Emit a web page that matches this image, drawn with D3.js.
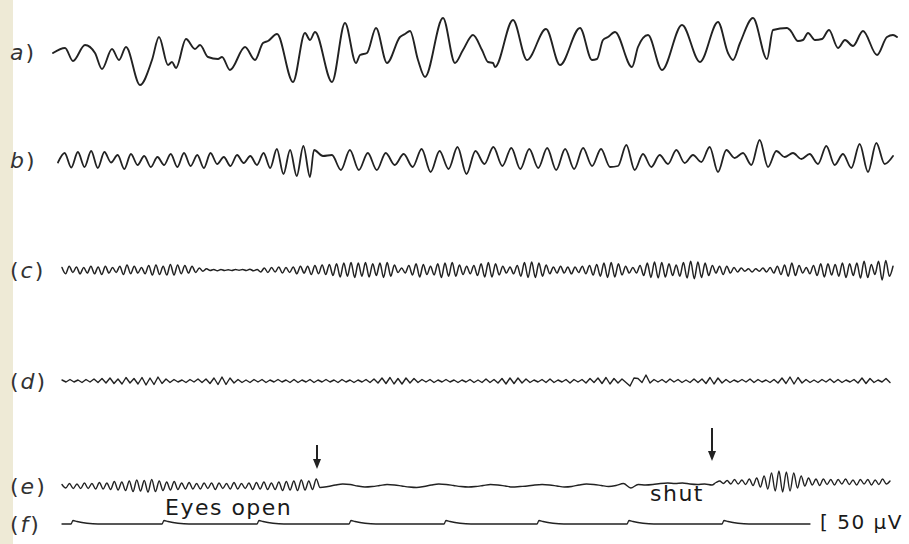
<!DOCTYPE html>
<html>
<head>
<meta charset="utf-8">
<script src="https://cdn.jsdelivr.net/npm/d3@7"></script>
<style>
  html, body { margin: 0; padding: 0; background: #fff; }
  svg { display: block; }
  .trace { fill: none; stroke: #222; stroke-linejoin: round; stroke-linecap: round; }
  .lbl { font-family: 'DejaVu Sans', sans-serif; fill: #333; }
</style>
</head>
<body>
<div id="chart"></div>
<script>
// trace a: times of the turning points (s) and amplitude (µV)
const aTimes = [
  0.03, 0.15, 0.23, 0.35, 0.45, 0.52, 0.62, 0.69, 0.76, 0.9,
  1.02, 1.09, 1.18, 1.22, 1.26, 1.36, 1.45, 1.5, 1.58, 1.68,
  1.72, 1.8, 1.95, 2.05, 2.13, 2.18, 2.27, 2.43, 2.55, 2.6,
  2.65, 2.82, 2.95, 3.06, 3.1, 3.17, 3.26, 3.37, 3.5, 3.55,
  3.6, 3.68, 3.75, 3.93, 4.05, 4.13, 4.23, 4.32, 4.38, 4.43,
  4.45, 4.63, 4.77, 4.96, 5.1, 5.3, 5.42, 5.47, 5.53, 5.58,
  5.65, 5.82, 5.88, 5.98, 6.12, 6.32, 6.5, 6.68, 6.78, 6.83,
  6.9, 7.03, 7.17, 7.23, 7.37, 7.4, 7.48, 7.53, 7.58, 7.65,
  7.72, 7.79, 7.88, 7.95, 8.03, 8.13, 8.27, 8.37, 8.43, 8.47,
]
const aValues = [
  -4, 16, -36, 28, -4, -68, 12, -32, 20, -132,
  -32, 60, -52, -40, -64, 52, 12, 28, -20, -28,
  -20, -72, 20, -32, 36, 44, 72, -120, 76, 48,
  80, -120, 116, -44, -12, -4, 96, -44, 60, 72,
  84, -32, -100, 136, -44, 8, 68, 8, -40, -44,
  -60, 128, -32, 92, -52, 96, -32, -28, 48, 60,
  80, -60, 20, 68, -72, 108, -40, 120, -4, -32,
  36, 136, -28, 88, 96, 88, 44, 48, 76, 48,
  52, 88, 16, 48, 24, 84, -12, 60, 68, 60,
]

// b - e: turning points read at an even step inside each stretch (µV)
const bFirst = [
  -10, 28, -30, 32, -28, 36, -32, 32, -10, 20, -36, 24, -20, 16, -28, 12, -20, 24, -28, 28,
  -24, 20, -32, 28, -16, 12, -24, 20, -12, 16, -20, 28, -32, 44, -56, 40, -64, 56, -68,
]
const bMiddle = [
  40, 16, 20, -40, 40, -40, 28, -40, 28, -20, 24, -28, 44, -48, 36, -36, 52,
  -56, 36, -16, 52, -24, 48, -36, 44, -32, 48, -40, 44, -36, 48, -24, 44, -28,
]
const bLast = [
  -24, 60, -40, 24, -28, 20, -16, 40, -12, 20, -8, 52, -48, 40, 8, 28, -20,
  80, -28, 36, 12, 28, 4, 24, -16, 56, -20, 24, -32, 64, -48, 68, -16, 16,
]
const cValues = [
  10, -15, 15, -10, 12, -15, 10, -12, 15, -15, 12, -18, 15, -12, 10, -10, 15, -18, 20, -15,
  15, -12, 10, -15, 18, -20, 20, -18, 15, -20, 22, -20, 20, -15, 18, -12, 15, -10, 8, -5, 5,
  -2, 2, -3, 2, -2, 1, -2, 2, -1, 2, -2, 3, -3, 2,
  -8, 8, -10, 10, -8, 12, -12, 10, -10, 12, -15, 15, -12, 15, -18, 18, -15, 20, -18, 22,
  -22, 25, -28, 28, -25, 30, -30, 28, -25, 30, -28, 25, -22, 28, -30, 30, -25, 20,
  -10, 8, -12, 18, -20, 25, -28, 22, -18, 15, -20, 25, -30, 28, -25, 30, -25, 20,
  -18, 15, -15, 18, -22, 25, -28, 30, -28, 25, -20, 15, -12, 12, -15, 18, -25, 30, -30, 32,
  -30, 28, -25, 20, -15, 12, -12, 15, -12, 12, -15, 12, -10, 15, -15, 18, -20, 22, -25, 28,
  -30, 30, -28, 25, -20, 15, -12, 10, -12, 18, -22, 28, -30, 32, -32, 30, -28, 25, -22, 20,
  -25, 30, -32, 35, -35, 32, -30, 28, -22, 18, -12, 15, -18, 15, -12, 10, -8, 8, -5, 5,
  -8, 5, -5, 8, -8, 10, -12, 15, -18, 20, -25, 28, -22, 18, -12, 10, -15, 18, -22, 25,
  -28, 25, -20, 22, -25, 28, -30, 25, -22, 28, -32, 35, -30, 22, -18, 35, -40, 38, -25, 15,
]
const dValues = [
  4, -4, 6, -4, 4, -6, 6, -4, 8, -6, 10, -8, 12, -10, 8, -12, 14, -8, 10, -12,
  14, -16, 12, -14, 16, -10, 8, -6, 6, -4, 4, -6, 6, -4, 8, -6, 8, -10, 12, -14,
  16, -14, 12, -8, 6, -6, 4, -6, 6, -4, 6, -6, 4, -4, 6, -4, 4, -6, 6, -6,
  4, -4, 6, -6, 4, -4, 6, -4, 4, -6, 6, -4, 4, -6, 4, -4, 6, -6, 8, -8,
  12, -10, 14, -12, 10, -12, 12, -8, 10, -6, 6, -4, 6, -6, 4, -4, 6, -4, 4, -6,
  4, -4, 6, -6, 4, -6, 8, -6, 6, -8, 10, -12, 12, -10, 12, -8, 8, -6, 4, -4,
  6, -6, 8, -6, 4, -4, 6, -8, 6, -4, 6, -8, 10, -6, 12, -10, 14, -12, 10, -8,
  8, -6, -20, 12, 10, -6, 24, -8, 6, -4, 6, -6, 8, -4, 6, -6, 4, -6, 8, -6,
  8, -10, 14, -12, 12, -8, 6, -6, 4, -4, 6, -4, 8, -6, 6, -4, 4, -6, 6, -8,
  12, -10, 16, -12, 14, -8, 6, -6, 4, -6, 6, -4, 8, -6, 6, -6, 4, -4, 6, -8,
  12, -10, 10, -6, 4, -4, 10, -6,
]
const eOpen = [
  6, -8, 10, -10, 8, -10, 12, -10, 10, -12, 14, -12, 12, -14, 18, -16, 16, -18, 20, -22,
  24, -20, 22, -24, 26, -22, 20, -18, 16, -16, 18, -14, 12, -12, 14, -12, 10, -12, 12, -10,
  12, -14, 12, -10, 10, -12, 14, -12, 10, -10, 12, -14, 14, -12, 16, -14, 12, -14, 16, -18,
  18, -16, 20, -18, 24, -16, 20, -14, 28, -6,
]
const eSlow = [
  -2, 4, 8, 6, 0, -4, -2, 2, 6, 4, 0, -4, -6, -2, 4, 8, 6, 2, -2, -4,
  -2, 2, 6, 4, 0, -4, -2, 0, 4, 6, 4, 0, -4, -2, 4, 8, 6, 2, -2, 2,
  10, -8, 6, 4, 6, 10, 12, 10, 12, 8, 6, 8, 4,
]
const eShut = [
  14, 20, 10, 22, 8, 26, 8, 24, 6, 28, 2, 32, -4, 40, -12, 52, -20, 60, -24, 56,
  -20, 52, -8, 40, 0, 32, 4, 28, 2, 28, 6, 26, 4, 26, 8, 28, 6, 24, 4, 26,
  8, 26, 4, 24, 6, 28, 8, 20,
]

// f: one-second time marks, and the two arrows on e (s)
const markTimes = [0.22, 1.13, 2.08, 3.0, 3.95, 4.88, 5.78, 6.73]
const arrowTimes = [2.67, 6.62]
const rowLabels = ['a', 'b', 'c', 'd', 'e', 'f']

const W = 909
const H = 544
const rowY = { a: 52, b: 160, c: 270, d: 381, e: 486, f: 524 }
const strokeW = { a: 1.9, b: 1.8, c: 1.5, d: 1.4, e: 1.4, f: 1.3 }

const x = d3.scaleLinear().domain([0, 8.5]).range([50, 900])
// 4 µV per pixel
const amp = d3.scaleLinear().domain([-100, 100]).range([25, -25])

function evenPoints(segs) {
  return segs.flatMap((s) => {
    const step = (s.t1 - s.t0) / (s.v.length - 1)
    return s.v.map((v, i) => ({ t: s.t0 + i * step, v }))
  })
}

function markPoints(t0, t1, marks) {
  const pts = [{ t: t0, v: 0 }]
  marks.forEach((m) => {
    pts.push({ t: m - 0.01, v: 0 }, { t: m + 0.01, v: 14 }, { t: m + 0.05, v: 10 }, { t: m + 0.15, v: 3 }, { t: m + 0.26, v: 0 })
  })
  pts.push({ t: t1, v: 0 })
  return pts
}

const traces = {
  a: aTimes.map((t, i) => ({ t, v: aValues[i] })),
  b: evenPoints([
    { t0: 0.08, t1: 2.6, v: bFirst },
    { t0: 2.64, t1: 5.6, v: bMiddle },
    { t0: 5.68, t1: 8.43, v: bLast },
  ]),
  c: evenPoints([{ t0: 0.12, t1: 8.43, v: cValues }]),
  d: evenPoints([{ t0: 0.12, t1: 8.4, v: dValues }]),
  e: evenPoints([
    { t0: 0.12, t1: 2.7, v: eOpen },
    { t0: 2.78, t1: 6.62, v: eSlow },
    { t0: 6.66, t1: 8.4, v: eShut },
  ]),
  f: markPoints(0.12, 7.6, markTimes),
}

const svg = d3.select('#chart').append('svg').attr('width', W).attr('height', H)

svg.append('rect').attr('width', W).attr('height', H).attr('fill', '#ffffff')
// pale edge of the scanned page
svg.append('rect').attr('width', 13).attr('height', H).attr('fill', '#eeead6')

rowLabels.forEach((key) => {
  const line = d3
    .line()
    .x((d) => x(d.t))
    .y((d) => rowY[key] + amp(d.v))
    .curve(key === 'd' ? d3.curveLinear : d3.curveMonotoneX)

  svg.append('path').attr('class', 'trace').attr('stroke-width', strokeW[key]).attr('d', line(traces[key]))

  const label = svg
    .append('text')
    .attr('class', 'lbl')
    .attr('x', 10)
    .attr('y', rowY[key] + 8)
    .style('font-size', '22px')
    .style('letter-spacing', '2px')
  const paren = key !== 'a' && key !== 'b'
  if (paren) label.append('tspan').text('(')
  label.append('tspan').style('font-style', 'italic').text(key)
  label.append('tspan').text(')')
})

// arrows on e
const arrowSpan = [
  [445, 469],
  [428, 461],
]
arrowTimes.forEach((t, i) => {
  const ax = x(t)
  const [top, bottom] = arrowSpan[i]
  svg.append('line').attr('x1', ax).attr('x2', ax).attr('y1', top).attr('y2', bottom - 6).attr('stroke', '#222').attr('stroke-width', 2)
  svg
    .append('path')
    .attr('d', `M${ax - 4},${bottom - 10}L${ax + 4},${bottom - 10}L${ax},${bottom}Z`)
    .attr('fill', '#222')
})

svg.append('text').attr('class', 'lbl').attr('x', 165).attr('y', 515).style('font-size', '22px').style('letter-spacing', '1.5px').style('fill', '#1a1a1a').text('Eyes open')
svg.append('text').attr('class', 'lbl').attr('x', 650).attr('y', 501).style('font-size', '22px').style('letter-spacing', '1.5px').style('fill', '#1a1a1a').text('shut')
svg.append('text').attr('class', 'lbl').attr('x', 820).attr('y', 529).style('font-size', '20px').style('letter-spacing', '1.5px').style('fill', '#1a1a1a').text('[ 50 µV')
</script>
</body>
</html>
